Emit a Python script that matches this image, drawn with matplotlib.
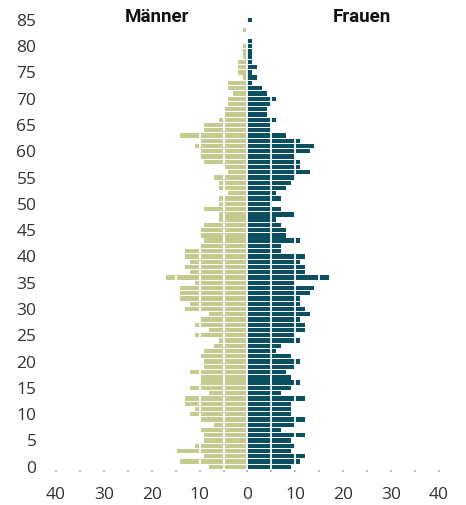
import numpy as np
import matplotlib.pyplot as plt

plt.rcParams['font.family'] = ['Open Sans', 'DejaVu Sans']

ages = np.arange(0, 86)

maenner = [8, 14, 9, 15, 11, 9, 9, 10, 7, 10,
           12, 11, 13, 13, 8, 12, 10, 10, 12, 9,
           9, 10, 9, 7, 6, 11, 8, 11, 10, 8,
           13, 12, 14, 14, 14, 11, 17, 12, 13, 12,
           13, 13, 10, 9, 10, 10, 9, 6, 6, 9,
           6, 6, 4, 6, 6, 7, 4, 5, 9, 10,
           10, 11, 10, 14, 9, 9, 6, 5, 5, 4,
           4, 3, 4, 4, 1, 2, 2, 2, 1, 1,
           1, 0, 0, 1, 0, 0]

frauen = [9, 11, 12, 9, 10, 9, 12, 7, 10, 12,
          9, 9, 9, 12, 7, 9, 11, 9, 8, 10,
          11, 9, 6, 7, 11, 10, 12, 12, 11, 13,
          12, 11, 11, 13, 14, 10, 17, 12, 12, 11,
          12, 7, 7, 11, 8, 8, 7, 6, 10, 7,
          5, 7, 6, 8, 9, 10, 13, 11, 11, 10,
          13, 14, 11, 8, 5, 5, 6, 4, 4, 5,
          6, 4, 3, 1, 2, 1, 2, 1, 1, 1,
          1, 1, 0, 0, 0, 1]

x_ticks = [-40, -30, -20, -10, 0, 10, 20, 30, 40]
x_labels = ['40', '30', '20', '10', '0', '10', '20', '30', '40']
y_ticks = list(range(0, 86, 5))

green = '#c5ca91'
teal = '#0b4f61'

fig = plt.figure(figsize=(4.66, 5.05), dpi=100)
ax = fig.add_axes([0.120, 0.070, 0.822, 0.896])

ax.barh(ages, -np.array(maenner), height=0.82, color=green, zorder=2)
ax.barh(ages, frauen, height=0.82, color=teal, zorder=2)

# white grid lines over the bars
for gx in range(-40, 41, 5):
    ax.axvline(gx, color='white', lw=1.3, zorder=3)

ax.set_xlim(-40, 40)
ax.set_ylim(-0.55, 85.5)

ax.set_xticks(x_ticks)
ax.set_xticklabels(x_labels)
ax.set_xticks(range(-40, 41, 5), minor=True)
ax.set_yticks(y_ticks)

ax.tick_params(axis='x', which='both', length=1.5, width=1.2, color='#b0b0b0',
               pad=11, labelsize=12.5, labelcolor='#333333')
ax.tick_params(axis='y', length=0, pad=14, labelsize=12.5, labelcolor='#333333')

for s in ax.spines.values():
    s.set_visible(False)

title_font = ['Liberation Sans Narrow', 'Roboto', 'DejaVu Sans']
ax.text(-19, 85.6, 'Männer', ha='center', va='center', fontsize=13.5,
        fontweight='bold', color='#111111', family=title_font)
ax.text(24, 85.6, 'Frauen', ha='center', va='center', fontsize=13.5,
        fontweight='bold', color='#111111', family=title_font)

fig.savefig('out.png', dpi=100)
